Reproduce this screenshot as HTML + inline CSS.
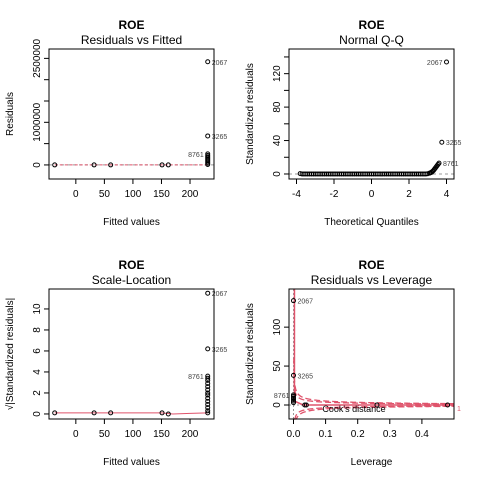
<!DOCTYPE html>
<html><head><meta charset="utf-8"><style>
body{margin:0;background:#fff}
svg text{font-family:"Liberation Sans",sans-serif}
</style></head><body>
<svg id="c" width="480" height="480" xmlns="http://www.w3.org/2000/svg"></svg>
<script>
// Residuals vs Fitted
const rvfFitted=[-37,32,61,151,162,231,231,231,231,231,231,231,231,231,231,231];
const rvfResid=[0,0,0,0,0,2420000,680000,260000,220000,190000,160000,130000,100000,70000,40000,10000];
const rvfLabels=["","","","","","2067","3265","8761","","","","","","","",""];
// Normal Q-Q
const qqTheo=[-3.8,-3.7,-3.6,-3.5,-3.4,-3.3,-3.2,-3.1,-3.0,-2.9,-2.8,-2.7,-2.6,-2.5,-2.4,-2.3,-2.2,-2.1,-2.0,-1.9,-1.8,-1.7,-1.6,-1.5,-1.4,-1.3,-1.2,-1.1,-1.0,-0.9,-0.8,-0.7,-0.6,-0.5,-0.4,-0.3,-0.2,-0.1,0.0,0.1,0.2,0.3,0.4,0.5,0.6,0.7,0.8,0.9,1.0,1.1,1.2,1.3,1.4,1.5,1.6,1.7,1.8,1.9,2.0,2.1,2.2,2.3,2.4,2.5,2.6,2.7,2.8,2.9,3.0,3.1,3.15,3.2,3.25,3.3,3.35,3.4,3.45,3.5,3.55,3.6,3.75,4.0];
const qqResid=[0.5,0,0,0,0,0,0,0,0,0,0,0,0,0,0,0,0,0,0,0,0,0,0,0,0,0,0,0,0,0,0,0,0,0,0,0,0,0,0,0,0,0,0,0,0,0,0,0,0,0,0,0,0,0,0,0,0,0,0,0,0,0,0,0,0,0,0,0,0.3,1,1.5,2,3,4,5.5,7,8.5,10,11.5,13,38,134];
const qqLabels={79:"8761",80:"3265",81:"2067"};
// Scale-Location
const slFitted=[-37,32,61,151,162,231,231,231,231,231,231,231,231,231,231,231,231,231,231,231,231];
const slValue=[0.1,0.1,0.1,0.1,0,11.5,6.2,3.6,3.4,3.2,2.9,2.6,2.3,2.0,1.8,1.5,1.2,0.9,0.6,0.3,0.1];
const slLabels={5:"2067",6:"3265",7:"8761"};
// Residuals vs Leverage
const levX=[0,0,0,0,0,0,0,0,0.035,0.04,0.26,0.48];
const levY=[134,38,13,11,9,7,5,3,0,0,0,0];
const levLabels={0:"2067",1:"3265",2:"8761"};

const NS="http://www.w3.org/2000/svg";
const svg=document.getElementById('c');
function mk(tag,attrs,parent){const e=document.createElementNS(NS,tag);for(const k in attrs)e.setAttribute(k,attrs[k]);(parent||svg).appendChild(e);return e;}
function txt(s,attrs,parent){const e=mk('text',attrs,parent);e.textContent=s;return e;}

function panel(o){
  const g=mk('g',{});
  
  
  const L=o.x0,R=o.x0+165,T=o.y0,B=o.y0+130;
  const sx=v=>L+(v-o.xr[0])/(o.xr[1]-o.xr[0])*(R-L);
  const sy=v=>B-(v-o.yr[0])/(o.yr[1]-o.yr[0])*(B-T);
  const cx=(L+R)/2;
  let t=txt('ROE',{x:cx,y:T-20,'text-anchor':'middle','font-size':12,'font-weight':'bold'},g);
  
  t=txt(o.sub,{x:cx,y:T-5,'text-anchor':'middle','font-size':12},g);
  
  t=txt(o.xl,{x:cx,y:B+46,'text-anchor':'middle','font-size':10},g);
  
  t=txt(o.yl,{x:0,y:0,'text-anchor':'middle','font-size':10,transform:`translate(${L-36},${(T+B)/2}) rotate(-90)`},g);
  
  o.xt.forEach((v,i)=>{mk('line',{x1:sx(v),x2:sx(v),y1:B,y2:B+5,stroke:'#000'},g);
    const l=txt(o.xtl[i],{x:sx(v),y:B+18,'text-anchor':'middle','font-size':10},g);
    });
  o.yt.forEach((v,i)=>{mk('line',{x1:L-5,x2:L,y1:sy(v),y2:sy(v),stroke:'#000'},g);
    const l=txt(o.ytl[i]||'',{x:0,y:0,'text-anchor':'middle','font-size':10,transform:`translate(${L-9},${sy(v)}) rotate(-90)`},g);
    });
  o.extra&&o.extra(g,sx,sy,L,R,T,B);
  o.xs.forEach((xv,i)=>{const c=mk('circle',{cx:sx(xv),cy:sy(o.ys[i]),r:2,fill:'none',stroke:'#000','stroke-width':1},g);
    
    const lab=o.labs[i];if(lab){const left=o.leftLab&&o.leftLab(i);
      const l=txt(lab,{x:sx(xv)+(left?-4:4),y:sy(o.ys[i])+3,'text-anchor':left?'end':'start','font-size':7,fill:'#444'},g);
      }});
  mk('rect',{x:L,y:T,width:R-L,height:B-T,fill:'none',stroke:'#000'},g);
}

panel({name:'residuals-vs-fitted',x0:49,y0:49,xr:[-47,242],yr:[-330000,2720000],sub:'Residuals vs Fitted',xl:'Fitted values',yl:'Residuals',
  xt:[0,50,100,150,200],xtl:['0','50','100','150','200'],yt:[0,500000,1000000,1500000,2000000,2500000],ytl:['0','','1000000','','','2500000'],
  xs:rvfFitted,ys:rvfResid,labs:rvfLabels,leftLab:i=>i===7,
  extra:(g,sx,sy,L,R)=>{mk('line',{x1:L,x2:R,y1:sy(0),y2:sy(0),stroke:'#999','stroke-dasharray':'3,3'},g);
    mk('line',{x1:sx(-37),x2:sx(231),y1:sy(0),y2:sy(0),stroke:'#df536b','stroke-dasharray':'3,2'},g);}});

panel({name:'normal-qq',x0:289,y0:49,xr:[-4.4,4.4],yr:[-6,149.5],sub:'Normal Q-Q',xl:'Theoretical Quantiles',yl:'Standardized residuals',
  xt:[-4,-2,0,2,4],xtl:['-4','-2','0','2','4'],yt:[0,20,40,60,80,100,120,140],ytl:['0','','40','','80','','120',''],
  xs:qqTheo,ys:qqResid,labs:qqTheo.map((_,i)=>qqLabels[i]||''),leftLab:i=>i===81,
  extra:(g,sx,sy,L,R)=>{mk('line',{x1:L,x2:R,y1:sy(0),y2:sy(0),stroke:'#999','stroke-dasharray':'3,3'},g);}});

panel({name:'scale-location',x0:49,y0:289,xr:[-47,242],yr:[-0.48,11.9],sub:'Scale-Location',xl:'Fitted values',yl:'√|Standardized residuals|',
  xt:[0,50,100,150,200],xtl:['0','50','100','150','200'],yt:[0,2,4,6,8,10],ytl:['0','2','4','6','8','10'],
  xs:slFitted,ys:slValue,labs:slFitted.map((_,i)=>slLabels[i]||''),leftLab:i=>i===7,
  extra:(g,sx,sy)=>{mk('polyline',{points:[[-37,0.1],[150,0.1],[170,0],[200,0.05],[231,0.1]].map(p=>sx(p[0])+','+sy(p[1])).join(' '),fill:'none',stroke:'#df536b'},g);}});

panel({name:'residuals-vs-leverage',x0:289,y0:289,xr:[-0.014,0.5],yr:[-18,149],sub:'Residuals vs Leverage',xl:'Leverage',yl:'Standardized residuals',
  xt:[0,0.1,0.2,0.3,0.4],xtl:['0.0','0.1','0.2','0.3','0.4'],yt:[0,50,100],ytl:['0','50','100'],
  xs:levX,ys:levY,labs:levX.map((_,i)=>levLabels[i]||''),leftLab:i=>i===2,
  extra:(g,sx,sy,L,R,T,B)=>{
    mk('line',{x1:L,x2:R,y1:sy(0),y2:sy(0),stroke:'#999','stroke-dasharray':'2,2'},g);
    mk('line',{x1:sx(0),x2:sx(0),y1:T,y2:B,stroke:'#999','stroke-dasharray':'2,2'},g);
    mk('polyline',{points:[[0.003,149],[0.003,5],[0.03,0],[0.5,0]].map(p=>sx(p[0])+','+sy(p[1])).join(' '),fill:'none',stroke:'#df536b','stroke-width':1.5},g);
    [0.5,1].forEach(c=>[1,-1].forEach(s=>{const pts=[];for(let h=0.0008;h<=0.5;h+=0.002){const r=s*Math.sqrt(c*2*(1-h)/h)*1.2;pts.push(sx(h)+','+Math.max(T,Math.min(B,sy(r))));}
      mk('polyline',{points:pts.join(' '),fill:'none',stroke:'#df536b','stroke-dasharray':'6,3','stroke-width':1.3},g);}));
    txt("Cook's distance",{x:sx(0.09),y:sy(-5)+3,'font-size':9},g);
    txt('1',{x:R+3,y:sy(-4)+3,'font-size':7,fill:'#df536b'},g);
  }});
</script>
</body></html>
